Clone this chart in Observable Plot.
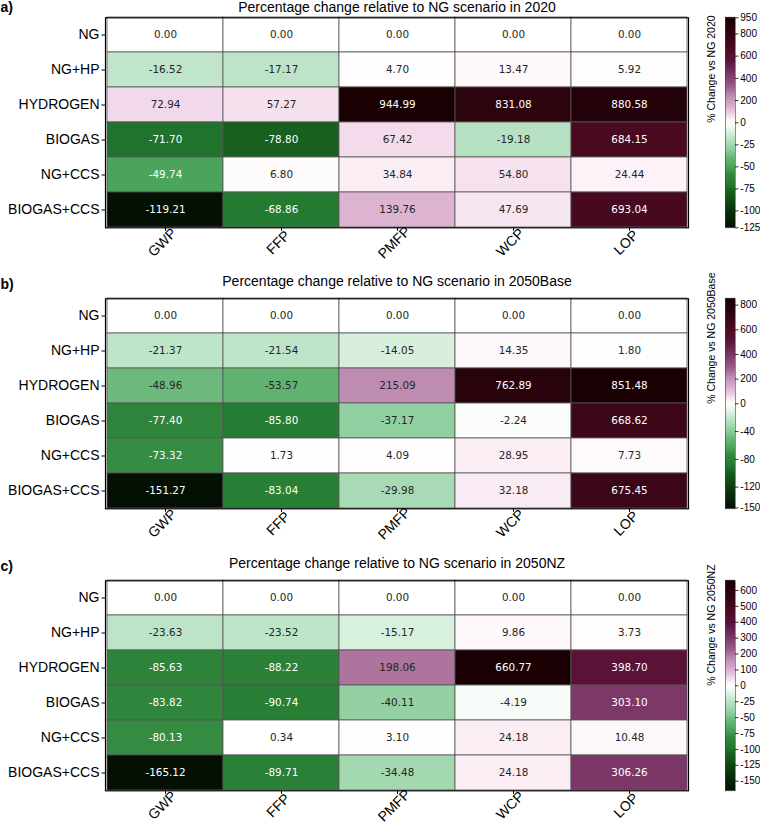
<!DOCTYPE html>
<html><head><meta charset="utf-8">
<script src="https://cdn.jsdelivr.net/npm/d3@7"></script>
<script src="https://cdn.jsdelivr.net/npm/@observablehq/plot@0.6"></script>
<style>
body{margin:0;background:#fff;}
#root{position:relative;width:760px;height:823px;overflow:hidden;background:#fff;}
.layer{position:absolute;}
</style></head><body><div id="root"></div>
<script>
const scenarios = ["NG","NG+HP","HYDROGEN","BIOGAS","NG+CCS","BIOGAS+CCS"];
const indicators = ["GWP","FFP","PMFP","WCP","LOP"];
const values2020 = [
  [0,0,0,0,0],
  [-16.52,-17.17,4.70,13.47,5.92],
  [72.94,57.27,944.99,831.08,880.58],
  [-71.70,-78.80,67.42,-19.18,684.15],
  [-49.74,6.80,34.84,54.80,24.44],
  [-119.21,-68.86,139.76,47.69,693.04]
];
const values2050Base = [
  [0,0,0,0,0],
  [-21.37,-21.54,-14.05,14.35,1.80],
  [-48.96,-53.57,215.09,762.89,851.48],
  [-77.40,-85.80,-37.17,-2.24,668.62],
  [-73.32,1.73,4.09,28.95,7.73],
  [-151.27,-83.04,-29.98,32.18,675.45]
];
const values2050NZ = [
  [0,0,0,0,0],
  [-23.63,-23.52,-15.17,9.86,3.73],
  [-85.63,-88.22,198.06,660.77,398.70],
  [-83.82,-90.74,-40.11,-4.19,303.10],
  [-80.13,0.34,3.10,24.18,10.48],
  [-165.12,-89.71,-34.48,24.18,306.26]
];
const ticks2020 = [950,800,600,400,200,0,-25,-50,-75,-100,-125];
const ticks2050Base = [800,600,400,200,0,-40,-80,-120,-150];
const ticks2050NZ = [600,500,400,300,200,100,0,-25,-50,-75,-100,-125,-150];
const panelLabels = ["a)","b)","c)"];
const titles = [
  "Percentage change relative to NG scenario in 2020",
  "Percentage change relative to NG scenario in 2050Base",
  "Percentage change relative to NG scenario in 2050NZ"
];
const cbarLabels = ["% Change vs NG 2020","% Change vs NG 2050Base","% Change vs NG 2050NZ"];

// colormap stops (fraction of the negative / positive half)
const negStops = [[0,"#ffffff"],[0.03,"#f4faf5"],[0.09,"#d9f0df"],[0.14,"#bfe5c9"],[0.2,"#a8dab5"],[0.25,"#8fcf9f"],[0.33,"#6ab77a"],[0.42,"#4aa35a"],[0.5,"#30863c"],[0.58,"#237a31"],[0.66,"#17601e"],[0.8,"#0c3b10"],[1,"#031003"]];
const posStops = [[0,"#ffffff"],[0.03,"#fcf0f6"],[0.07,"#f3dcec"],[0.15,"#dcb2d1"],[0.25,"#bf8db2"],[0.35,"#9a5a8a"],[0.46,"#7b3868"],[0.6,"#5a1238"],[0.72,"#4a0a22"],[0.85,"#300510"],[1,"#1a0003"]];

const FONT = "'Liberation Sans', Arial, Helvetica, sans-serif";
const FT = 17.3, FB = 227.3, FM = (FT + FB) / 2, PH = 281;

function colorScaleFor(vals) {
  const flat = vals.flat();
  const vmin = d3.min(flat), vmax = d3.max(flat);
  const domain = [], range = [];
  for (let i = negStops.length - 1; i > 0; --i) { domain.push(vmin * negStops[i][0]); range.push(negStops[i][1]); }
  for (const [t, c] of posStops) { domain.push(vmax * t); range.push(c); }
  return {vmin, vmax, domain, range};
}

const panels = [
  {values: values2020, ticks: ticks2020, top: 0, titleDy: -5.6, labelDy: -5.6},
  {values: values2050Base, ticks: ticks2050Base, top: 281, titleDy: -12.5, labelDy: -9.5},
  {values: values2050NZ, ticks: ticks2050NZ, top: 562.7, titleDy: -12.5, labelDy: -9.5}
];

const root = document.getElementById("root");
panels.forEach((p, k) => {
  const cs = colorScaleFor(p.values);
  const norm = v => v < 0 ? v / cs.vmin : v / cs.vmax;
  const data = scenarios.flatMap((s, i) => indicators.map((ind, j) => ({scenario: s, indicator: ind, value: p.values[i][j]})));
  const colorOpt = {type: "linear", domain: cs.domain, range: cs.range, interpolate: "rgb"};
  const heat = Plot.plot({
    width: 760, height: PH, marginTop: FT, marginBottom: PH - FB, marginLeft: 105, marginRight: 72,
    style: {fontFamily: FONT, fontSize: "14px", background: "transparent", color: "black", overflow: "visible"},
    x: {domain: indicators, padding: 0, label: null},
    y: {domain: scenarios, padding: 0, label: null},
    color: colorOpt,
    marks: [
      Plot.cell(data, {x: "indicator", y: "scenario", fill: "value", stroke: "#555", strokeWidth: 0.8}),
      Plot.text(data.filter(d => norm(d.value) <= 0.4), {x: "indicator", y: "scenario", text: d => d.value.toFixed(2), fill: "#262626", fontSize: 10.4, fontFamily: "'DejaVu Sans', sans-serif"}),
      Plot.text(data.filter(d => norm(d.value) > 0.4), {x: "indicator", y: "scenario", text: d => d.value.toFixed(2), fill: "white", fontSize: 10.4, fontFamily: "'DejaVu Sans', sans-serif"}),
      Plot.frame({stroke: "black", strokeWidth: 1.2}),
      Plot.axisY({tickSize: 3.5, tickPadding: 2.5, fontSize: 14, label: null}),
      Plot.axisX({tickSize: 3.5, tickFormat: () => "", label: null}),
      Plot.text(indicators, {x: d => d, frameAnchor: "bottom", dy: 18, rotate: -45, fontSize: 14}),
      Plot.text([titles[k]], {frameAnchor: "top", lineAnchor: "bottom", dy: p.titleDy, fontSize: 14}),
      Plot.text([panelLabels[k]], {frameAnchor: "top-left", dx: -105, textAnchor: "start", lineAnchor: "bottom", dy: p.labelDy, fontWeight: "bold", fontSize: 14})
    ]
  });
  const hd = document.createElement("div");
  hd.className = "layer"; hd.style.left = "0px"; hd.style.top = p.top + "px";
  hd.appendChild(heat); root.appendChild(hd);

  // colorbar
  const N = 140, ramp = [];
  for (let i = 0; i < N; i++) ramp.push({y1: cs.vmin * (1 - i / N), y2: cs.vmin * (1 - (i + 1) / N)});
  for (let i = 0; i < N; i++) ramp.push({y1: cs.vmax * i / N, y2: cs.vmax * (i + 1) / N});
  const cl = v => Math.max(cs.vmin, Math.min(cs.vmax, v));
  const cbar = Plot.plot({
    width: 60, height: PH, marginTop: FT, marginBottom: PH - FB, marginLeft: 25, marginRight: 25,
    style: {fontFamily: FONT, fontSize: "10px", background: "transparent", color: "black", overflow: "visible"},
    x: {domain: [0, 1], axis: null},
    y: {type: "linear", domain: [cs.vmin, 0, cs.vmax], range: [FB, FM, FT], axis: null},
    color: colorOpt,
    marks: [
      Plot.rect(ramp, {x1: 0, x2: 1, y1: "y1", y2: "y2", fill: d => (d.y1 + d.y2) / 2, insetTop: -0.4, insetBottom: -0.4}),
      Plot.frame({stroke: "#444", strokeWidth: 0.6}),
      Plot.ruleY(p.ticks, {y: cl, x1: 1, x2: 1.35, stroke: "black", strokeWidth: 0.8}),
      Plot.text(p.ticks, {y: cl, x: 1, dx: 4.8, textAnchor: "start", text: d => String(d), fontSize: 10}),
      Plot.text([cbarLabels[k]], {frameAnchor: "left", dx: -14, rotate: -90, fontSize: 10.5})
    ]
  });
  const cd = document.createElement("div");
  cd.className = "layer"; cd.style.left = "700px"; cd.style.top = p.top + "px";
  cd.appendChild(cbar); root.appendChild(cd);
});
</script>
</body></html>
